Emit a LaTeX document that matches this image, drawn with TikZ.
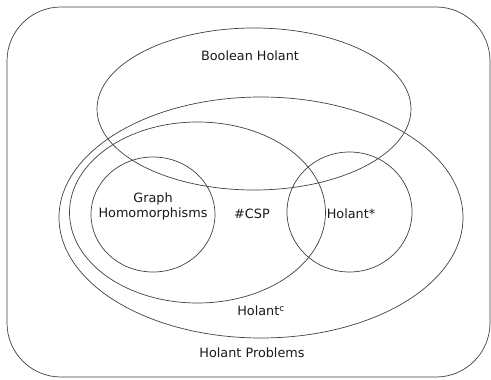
\documentclass[tikz,border=0pt]{standalone}
\usepackage{fontspec}
\setmainfont{DejaVu Sans}
\begin{document}
\begin{tikzpicture}[x=1pt,y=-1pt,
  venn/.style={draw=black!75,line width=0.7pt},
  lbl/.style={font=\fontsize{12.8}{14}\selectfont,text=black!90,inner sep=0pt,align=center}]
\useasboundingbox (0,0) rectangle (491,380);
\draw[venn,rounded corners=54] (7,7) rectangle (490,377);
\draw[venn] (254,109) ellipse [x radius=157, y radius=81];
\draw[venn] (261,217.5) ellipse [x radius=202, y radius=120.5];
\draw[venn] (197.5,212.5) ellipse [x radius=128, y radius=90.5];
\draw[venn] (153,214.5) ellipse [x radius=62, y radius=57.5];
\draw[venn] (349.5,212) ellipse [x radius=62.5, y radius=60];
\node[lbl] (bool) at (250,56) {Boolean Holant};
\node[lbl] (gh) at (153,206) {Graph\\[1pt]Homomorphisms};
\node[lbl] (csp) at (252,214) {\#CSP};
\node[lbl] (hstar) at (351,214) {Holant*};
\node[lbl] (hc) at (261,311) {Holant\textsuperscript{c}};
\node[lbl] (hp) at (252,353) {Holant Problems};
\end{tikzpicture}
\end{document}
